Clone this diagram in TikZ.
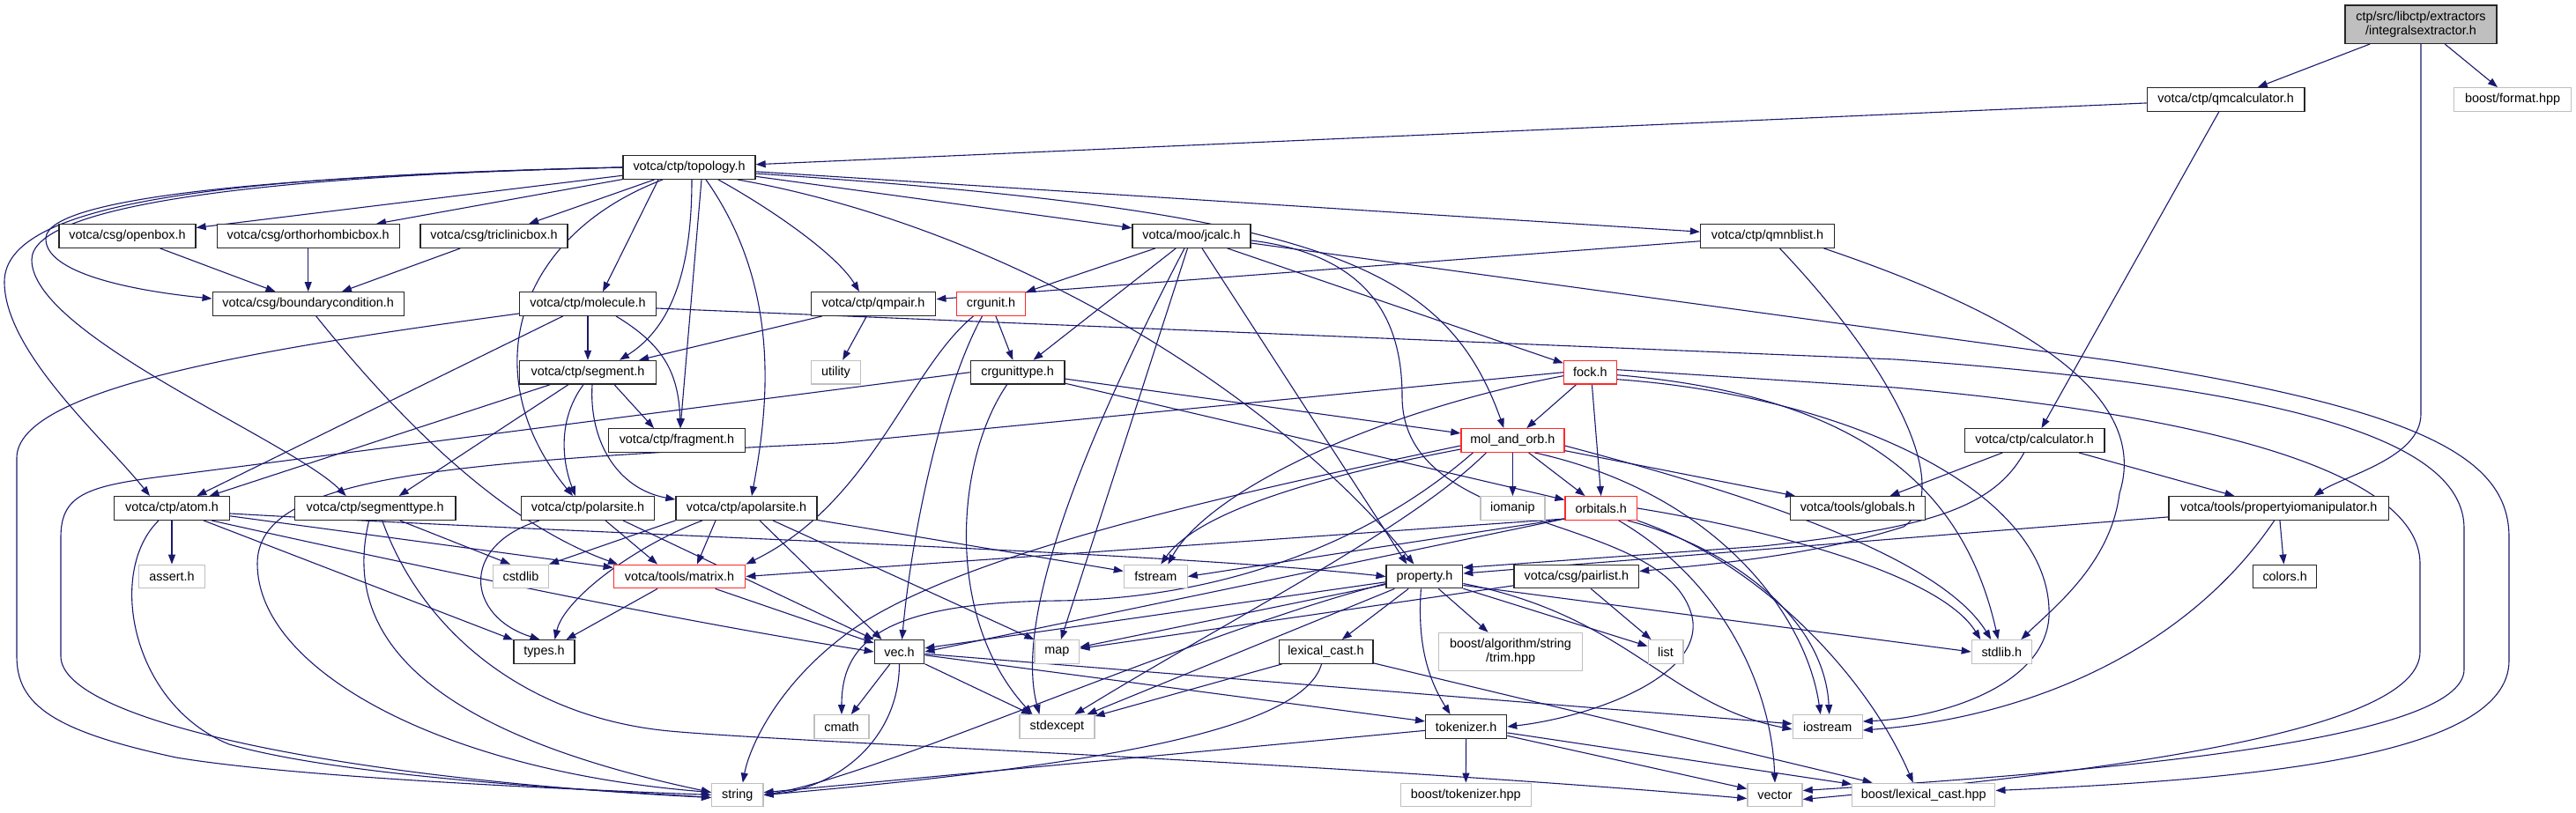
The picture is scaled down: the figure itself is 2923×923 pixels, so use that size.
\documentclass[tikz,border=0pt]{standalone}
\usepackage{fontspec}
\setmainfont{Liberation Sans}
\usetikzlibrary{arrows.meta}
\definecolor{edgeblue}{RGB}{25,25,112}
\definecolor{boxgray}{RGB}{191,191,191}
\definecolor{boxred}{RGB}{255,40,40}
\pgfdeclarelayer{edges}
\pgfsetlayers{edges,main}
\begin{document}
\begin{tikzpicture}[
    x=1pt, y=-1pt,
    header/.style={rectangle, draw=black!85, line width=1.3pt, fill=white, minimum height=26.6pt, inner sep=0pt, font=\fontsize{14.4}{15.5}\selectfont},
    syshdr/.style={header, draw=boxgray},
    redhdr/.style={header, draw=boxred},
    rootbox/.style={header, fill=boxgray, minimum height=43.3pt, align=center},
    wd/.style={minimum width=#1pt},
    arrow/.style={-{Triangle[length=11pt,width=8pt]}, draw=edgeblue, line width=1.1pt}
]
    \useasboundingbox (0,0) rectangle (2923,923);

    % Headers
    \node[rootbox, wd=172] (extractor) at (2747,27.7) {ctp/src/libctp/extractors\\/integralsextractor.h};
    \node[header, wd=178.5] (qmcalc) at (2525.6,113) {votca/ctp/qmcalculator.h};
    \node[syshdr, wd=133.6] (format) at (2851,113) {boost/format.hpp};
    \node[header, wd=150] (topology) at (782,190) {votca/ctp/topology.h};
    \node[header, wd=155] (openbox) at (144.5,268) {votca/csg/openbox.h};
    \node[header, wd=207] (orthobox) at (349.7,268) {votca/csg/orthorhombicbox.h};
    \node[header, wd=167] (triclbox) at (560.5,268) {votca/csg/triclinicbox.h};
    \node[header, wd=134] (jcalc) at (1352,268) {votca/moo/jcalc.h};
    \node[header, wd=152] (qmnblist) at (2005.5,268) {votca/ctp/qmnblist.h};
    \node[header, wd=217] (boundary) at (349.7,345) {votca/csg/boundarycondition.h};
    \node[header, wd=155] (molecule) at (667,345) {votca/ctp/molecule.h};
    \node[header, wd=141.6] (qmpair) at (991,345) {votca/ctp/qmpair.h};
    \node[redhdr, wd=78] (crgunit) at (1124.5,345) {crgunit.h};
    \node[header, wd=155] (segment) at (667,422.7) {votca/ctp/segment.h};
    \node[syshdr, wd=56] (utility) at (948.5,422.7) {utility};
    \node[header, wd=106.7] (crgtype) at (1154.7,422.7) {crgunittype.h};
    \node[redhdr, wd=60] (fock) at (1804.4,422.7) {fock.h};
    \node[header, wd=155] (fragment) at (768,500) {votca/ctp/fragment.h};
    \node[redhdr, wd=117] (molorb) at (1716.4,500) {mol\_and\_orb.h};
    \node[header, wd=158.7] (calculator) at (2308.7,500) {votca/ctp/calculator.h};
    \node[header, wd=131] (atom) at (195,577) {votca/ctp/atom.h};
    \node[header, wd=182.7] (segtype) at (425.7,577) {votca/ctp/segmenttype.h};
    \node[header, wd=151.6] (polarsite) at (667,577) {votca/ctp/polarsite.h};
    \node[header, wd=160] (apolarsite) at (847,577) {votca/ctp/apolarsite.h};
    \node[syshdr, wd=73] (iomanip) at (1716.4,577) {iomanip};
    \node[redhdr, wd=81.3] (orbitals) at (1816.7,577) {orbitals.h};
    \node[header, wd=153.6] (globals) at (2108,577) {votca/tools/globals.h};
    \node[header, wd=249.5] (propio) at (2585.7,577) {votca/tools/propertyiomanipulator.h};
    \node[syshdr, wd=74.6] (assert) at (195,654.5) {assert.h};
    \node[syshdr, wd=62.7] (cstdlib) at (591,654.5) {cstdlib};
    \node[redhdr, wd=149.5] (matrix) at (771,654.5) {votca/tools/matrix.h};
    \node[syshdr, wd=71.8] (fstream) at (1311.3,654.5) {fstream};
    \node[header, wd=86.6] (property) at (1616.4,654.5) {property.h};
    \node[header, wd=141.6] (pairlist) at (1788.8,654.5) {votca/csg/pairlist.h};
    \node[header, wd=72] (colors) at (2592.7,654.5) {colors.h};
    \node[header, wd=69] (types) at (617.5,740) {types.h};
    \node[header, wd=56.5] (vec) at (1020.5,740) {vec.h};
    \node[syshdr, wd=50.7] (map) at (1199.4,740) {map};
    \node[header, wd=106.7] (lexcast) at (1504.5,740) {lexical\_cast.h};
    \node[syshdr, wd=163, minimum height=43.3pt, align=center] (trim) at (1714,740) {boost/algorithm/string\\/trim.hpp};
    \node[syshdr, wd=39.7] (list) at (1890,740) {list};
    \node[syshdr, wd=68] (stdlib) at (2271.3,740) {stdlib.h};
    \node[syshdr, wd=62] (cmath) at (955,825) {cmath};
    \node[syshdr, wd=85] (stdexcept) at (1199.4,825) {stdexcept};
    \node[header, wd=92] (tokenizer) at (1663.6,825) {tokenizer.h};
    \node[syshdr, wd=79] (iostream) at (2073.7,825) {iostream};
    \node[syshdr, wd=58.4] (string) at (836.8,902.5) {string};
    \node[syshdr, wd=147.8] (btokenizer) at (1663.3,902.5) {boost/tokenizer.hpp};
    \node[syshdr, wd=62.2] (vector) at (2014,902.5) {vector};
    \node[syshdr, wd=162] (blexcast) at (2182.8,902.5) {boost/lexical\_cast.hpp};

    \begin{pgfonlayer}{edges}
    \fill[white] (0,0) rectangle (2923,923);

    % Includes
    \draw[arrow] (extractor) -- (qmcalc);
    \draw[arrow] (extractor) -- (format);
    \draw[arrow] (extractor.south) -- (2747,470) .. controls (2747,520) and (2660,540) .. ([xshift=40pt]propio.north);

    \draw[arrow] (qmcalc) -- (topology);
    \draw[arrow] (qmcalc) -- (calculator);

    \draw[arrow] (topology) -- (openbox);
    \draw[arrow] (topology) -- (orthobox);
    \draw[arrow] (topology) -- (triclbox);
    \draw[arrow] (topology.west) .. controls (300,200) and (55,225) .. (52,270) .. controls (50,310) and (150,330) .. ([yshift=6pt]boundary.west);
    \draw[arrow] (topology.west) .. controls (250,200) and (5,230) .. (5,320) .. controls (5,400) and (120,500) .. ([xshift=-25pt]atom.north);
    \draw[arrow] (topology.west) .. controls (280,200) and (36,235) .. (36,295) .. controls (36,380) and (330,500) .. ([xshift=-33pt]segtype.north);
    \draw[arrow] ([xshift=-35pt]topology.south) -- ([xshift=17pt]molecule.north);
    \draw[arrow] ([xshift=3pt]topology.south) .. controls (785,300) and (765,370) .. ([xshift=36pt]segment.north);
    \draw[arrow] ([xshift=14pt]topology.south) -- ([xshift=4pt]fragment.north);
    \draw[arrow] ([xshift=-30pt]topology.south) .. controls (580,270) and (540,430) .. ([xshift=-17pt]polarsite.north);
    \draw[arrow] ([xshift=19pt]topology.south) .. controls (890,330) and (870,470) .. ([xshift=6pt]apolarsite.north);
    \draw[arrow] ([xshift=33pt]topology.south) .. controls (880,240) and (950,290) .. ([xshift=-16pt]qmpair.north);
    \draw[arrow] (topology) -- (jcalc);
    \draw[arrow] (topology) -- (qmnblist);
    \draw[arrow] ([yshift=-7pt]topology.east) .. controls (1500,240) and (1640,300) .. ([xshift=-10pt]molorb.north);
    \draw[arrow] ([xshift=55pt]topology.south) .. controls (1150,260) and (1450,450) .. ([xshift=-12pt]property.north);

    \draw[arrow] (openbox) -- (boundary);
    \draw[arrow] (orthobox) -- (boundary);
    \draw[arrow] (triclbox) -- (boundary);
    \draw[arrow] ([xshift=9pt]boundary.south) .. controls (440,460) and (560,590) .. ([xshift=-70pt]matrix.north);

    \draw[arrow] (molecule) -- (segment);
    \draw[arrow] ([xshift=32pt]molecule.south) .. controls (750,390) and (770,420) .. ([xshift=4pt]fragment.north);
    \draw[arrow] (molecule) -- (atom);
    \draw[arrow] ([yshift=-11pt]molecule.west) .. controls (300,395) and (19,440) .. (19,520) -- (19,745) .. controls (19,800) and (60,830) .. (200,860) .. controls (350,885) and (700,898) .. (string.west);
    \draw[arrow] ([yshift=-5pt]molecule.east) -- (2150,408) .. controls (2600,440) and (2796,500) .. (2796,600) -- (2796,760) .. controls (2796,840) and (2400,875) .. ([yshift=5pt]vector.east);

    \draw[arrow] ([xshift=30pt]segment.south) -- ([xshift=-26pt]fragment.north);
    \draw[arrow] (segment) -- (atom);
    \draw[arrow] ([xshift=-22pt]segment.south) -- ([xshift=27pt]segtype.north);
    \draw[arrow] ([xshift=-5pt]segment.south) .. controls (630,480) and (640,530) .. ([xshift=-14pt]polarsite.north);
    \draw[arrow] ([xshift=5pt]segment.south) .. controls (668,500) and (700,555) .. ([yshift=-4pt]apolarsite.north west);

    \draw[arrow] (qmpair) -- (segment);
    \draw[arrow] (qmpair) -- (utility);

    \draw[arrow] (crgunit) -- (crgtype);
    \draw[arrow] ([xshift=-20pt]crgunit.south) .. controls (1030,420) and (990,570) .. (matrix.north east);
    \draw[arrow] ([xshift=-10pt]crgunit.south) .. controls (1070,440) and (1035,600) .. ([xshift=3pt]vec.north);

    \draw[arrow] (jcalc) -- (crgunit);
    \draw[arrow] (jcalc) -- (crgtype);
    \draw[arrow] (jcalc) -- (fock);
    \draw[arrow] (jcalc) -- (map);
    \draw[arrow] ([xshift=-8pt]jcalc.south) .. controls (1230,500) and (1150,700) .. ([xshift=-20pt]stdexcept.north);
    \draw[arrow] ([xshift=12pt]jcalc.south) -- ([xshift=-20pt]property.north);
    \draw[arrow] ([yshift=-5pt]jcalc.east) .. controls (1560,290) and (1591,370) .. (1591,450) .. controls (1591,610) and (1890,580) .. (1920,700) .. controls (1935,770) and (1800,815) .. (tokenizer.east);
    \draw[arrow] ([yshift=-8pt]jcalc.east) -- (2400,410) .. controls (2750,465) and (2847,520) .. (2847,610) -- (2847,750) .. controls (2847,860) and (2550,885) .. ([yshift=5pt]blexcast.east);

    \draw[arrow] (qmnblist) -- (qmpair);
    \draw[arrow] ([xshift=14pt]qmnblist.south) .. controls (2160,430) and (2215,560) .. (2160,598) .. controls (2060,630) and (1950,640) .. ([yshift=6pt]pairlist.east);
    \draw[arrow] ([xshift=64pt]qmnblist.south) .. controls (2300,360) and (2440,450) .. (2405,560) .. controls (2395,640) and (2330,690) .. ([xshift=22pt]stdlib.north);

    \draw[arrow] (crgtype) -- (molorb);
    \draw[arrow] (crgtype) -- (orbitals);
    \draw[arrow] (crgtype.west) -- (200,539) .. controls (100,551) and (69,560) .. (69,610) -- (69,745) .. controls (69,820) and (400,885) .. ([yshift=-3pt]string.west);
    \draw[arrow] ([xshift=-12pt]crgtype.south) .. controls (1085,520) and (1070,700) .. ([xshift=-28pt]stdexcept.north);

    \draw[arrow] (fock) -- (molorb);
    \draw[arrow] ([xshift=2pt]fock.south) -- (orbitals.north);
    \draw[arrow] (fock.west) -- (950,503) .. controls (500,525) and (292,540) .. (292,640) .. controls (292,760) and (500,875) .. ([yshift=3pt]string.west);
    \draw[arrow] ([yshift=-4pt]fock.west) .. controls (1550,470) and (1370,560) .. ([xshift=14pt]fstream.north);
    \draw[arrow] ([yshift=-3pt]fock.east) .. controls (2120,450) and (2230,560) .. ([xshift=-4pt]stdlib.north);
    \draw[arrow] ([yshift=3pt]fock.east) -- (2150,440) .. controls (2600,480) and (2746,560) .. (2746,640) -- (2746,740) .. controls (2746,830) and (2400,875) .. ([yshift=-5pt]vector.east);
    \draw[arrow] ([yshift=-8pt]fock.east) .. controls (2100,450) and (2330,560) .. (2325,700) .. controls (2320,780) and (2200,815) .. ([yshift=6pt]iostream.east);

    \draw[arrow] (molorb) -- (iomanip);
    \draw[arrow] (molorb) -- (orbitals);
    \draw[arrow] (molorb) -- (globals);
    \draw[arrow] ([yshift=-6pt]molorb.west) .. controls (1400,560) and (1080,630) .. (960,720) .. controls (880,780) and (850,850) .. ([xshift=6pt]string.north);
    \draw[arrow] ([xshift=-45pt]molorb.south) .. controls (1550,620) and (1380,680) .. (1200,682) .. controls (1000,684) and (955,730) .. (cmath.north);
    \draw[arrow] ([xshift=-30pt]molorb.south) .. controls (1600,600) and (1400,700) .. ([xshift=20pt]stdexcept.north);
    \draw[arrow] ([yshift=-10pt]molorb.west) .. controls (1500,540) and (1360,580) .. ([xshift=6pt]fstream.north);
    \draw[arrow] ([yshift=-6pt]molorb.east) .. controls (1980,560) and (2200,630) .. ([xshift=-12pt]stdlib.north);
    \draw[arrow] ([xshift=25pt]molorb.south) .. controls (1950,560) and (2050,700) .. ([xshift=-8pt]iostream.north);

    \draw[arrow] ([yshift=-12pt]orbitals.west) -- (matrix.east);
    \draw[arrow] ([yshift=-12pt]orbitals.west) -- (vec.east);
    \draw[arrow] ([yshift=-12pt]orbitals.west) -- (fstream.east);
    \draw[arrow] ([xshift=30pt]orbitals.south) .. controls (1960,620) and (2070,700) .. ([xshift=2pt]iostream.north);
    \draw[arrow] (orbitals.east) .. controls (2000,600) and (2200,650) .. ([xshift=-24pt]stdlib.north);
    \draw[arrow] ([xshift=20pt]orbitals.south) .. controls (1955,660) and (2010,780) .. (vector.north);
    \draw[arrow] (orbitals.south east) .. controls (2000,640) and (2120,770) .. ([xshift=-12pt]blexcast.north);

    \draw[arrow] (property) -- (lexcast);
    \draw[arrow] ([xshift=-4pt]property.south) .. controls (1608,730) and (1620,770) .. ([xshift=-18pt]tokenizer.north);
    \draw[arrow] (property) -- (trim);
    \draw[arrow] (property) -- (list);
    \draw[arrow] ([yshift=-8pt]property.east) .. controls (1850,700) and (1890,800) .. ([yshift=-3pt]iostream.west);
    \draw[arrow] ([yshift=-10pt]property.east) -- (stdlib.west);
    \draw[arrow] (property) -- (map);
    \draw[arrow] (property) -- (vec);
    \draw[arrow] (property) -- (stdexcept);
    \draw[arrow] ([yshift=-8pt]property.west) .. controls (1350,720) and (1000,880) .. (string.east);

    \draw[arrow] (pairlist) -- (list);
    \draw[arrow] (pairlist) -- (map);

    \draw[arrow] (lexcast) -- (stdexcept);
    \draw[arrow] ([xshift=-5pt]lexcast.south) .. controls (1480,820) and (1300,865) .. (string.east);
    \draw[arrow] (lexcast) -- (blexcast);

    \draw[arrow] (tokenizer) -- (string);
    \draw[arrow] (tokenizer) -- (btokenizer);
    \draw[arrow] (tokenizer) -- (vector);
    \draw[arrow] (tokenizer) -- (blexcast);

    \draw[arrow] (vec) -- (cmath);
    \draw[arrow] (vec) -- (stdexcept);
    \draw[arrow] (vec.south) .. controls (1020,840) and (950,895) .. (string.east);
    \draw[arrow] (vec) -- (tokenizer);
    \draw[arrow] (vec) -- (iostream);

    \draw[arrow] (atom) -- (assert);
    \draw[arrow] (atom) -- (types);
    \draw[arrow] (atom) -- (matrix);
    \draw[arrow] ([xshift=-15pt]atom.south) .. controls (120,650) and (150,800) .. (260,845) .. controls (400,885) and (700,898) .. ([yshift=-3pt]string.west);
    \draw[arrow] ([xshift=45pt]atom.south) .. controls (550,660) and (800,710) .. (vec.west);
    \draw[arrow] ([yshift=-6pt]atom.east) .. controls (700,608) and (1300,625) .. (property.west);

    \draw[arrow] ([xshift=28pt]segtype.south) -- ([xshift=-12pt]cstdlib.north);
    \draw[arrow] ([xshift=-7pt]segtype.south) .. controls (395,690) and (430,820) .. ([yshift=3pt]string.west);
    \draw[arrow] ([xshift=8pt]segtype.south) .. controls (480,720) and (600,815) .. (760,830) .. controls (900,843) and (1500,865) .. ([yshift=-4pt]vector.west);

    \draw[arrow] ([xshift=20pt]polarsite.south) -- ([xshift=-25pt]matrix.north);
    \draw[arrow] ([xshift=-55pt]polarsite.south) .. controls (520,620) and (530,700) .. ([xshift=-5pt]types.north);
    \draw[arrow] ([xshift=40pt]polarsite.south) -- (vec.north west);

    \draw[arrow] ([xshift=-35pt]apolarsite.south) -- ([xshift=20pt]matrix.north);
    \draw[arrow] ([xshift=15pt]apolarsite.south) -- ([xshift=-20pt]vec.north);
    \draw[arrow] ([xshift=30pt]apolarsite.south) -- (map.north west);
    \draw[arrow] (apolarsite) -- (fstream);
    \draw[arrow] ([xshift=-50pt]apolarsite.south) .. controls (720,620) and (640,680) .. ([xshift=12pt]types.north);
    \draw[arrow] (apolarsite.south west) -- (cstdlib.north east);

    \draw[arrow] (matrix) -- (types);
    \draw[arrow] (matrix) -- (vec);

    \draw[arrow] (propio) -- (property);
    \draw[arrow] (propio) -- (colors);
    \draw[arrow] ([xshift=-5pt]propio.south) .. controls (2480,740) and (2300,815) .. ([yshift=-4pt]iostream.east);

    \draw[arrow] (calculator) -- (globals);
    \draw[arrow] (calculator) -- (propio);
    \draw[arrow] ([xshift=-12pt]calculator.south) .. controls (2260,580) and (2180,600) .. (2000,620) -- ([yshift=10pt]property.east);
    \end{pgfonlayer}
\end{tikzpicture}
\end{document}
